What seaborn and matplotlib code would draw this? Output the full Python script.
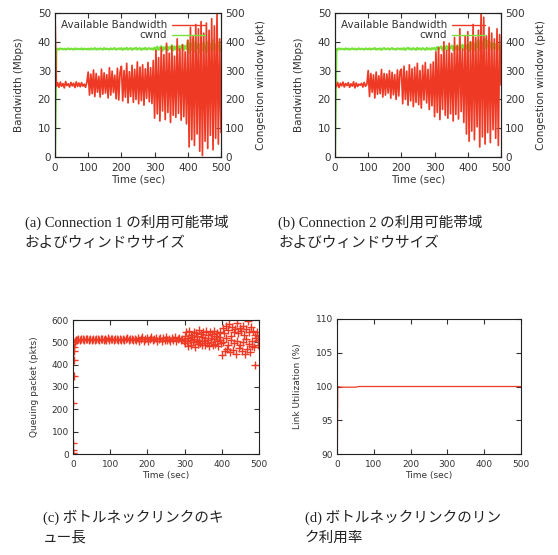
import numpy as np
import pandas as pd
import matplotlib
matplotlib.use("Agg")
import matplotlib.pyplot as plt
import seaborn as sns

# ---- data ----
# (a)/(b): sampled every 4 sec from 0 to 500
t_bw = np.arange(0, 501, 4)

bw_conn1 = [50, 24.5, 25.8, 24.2, 26.0, 24.6, 25.5, 24.0, 26.2, 24.8, 25.4, 24.3, 25.9, 24.7, 25.6, 24.1, 26.1, 24.5, 25.7, 24.4, 25.8, 24.6, 25.3, 24.2, 25.9,
            29.5, 21.5, 28.8, 22.0, 30.2, 21.0, 29.0, 22.5, 28.0, 20.8, 30.5, 21.8, 29.2, 22.2, 28.6, 20.5, 31.0, 21.5, 29.8, 22.4, 28.4, 20.2, 30.8, 19.8, 29.5,
            31.5, 19.5, 30.0, 20.8, 32.5, 18.8, 29.6, 21.0, 31.8, 19.0, 30.4, 20.0, 33.0, 18.5, 31.2, 19.6, 32.0, 18.0, 30.6, 20.4, 32.8, 19.2, 31.0, 18.6, 33.5,
            13.5, 37.0, 15.0, 34.5, 12.5, 38.0, 16.0, 35.5, 13.0, 39.5, 15.5, 36.0, 12.0, 38.5, 14.5, 35.0, 13.8, 41.0, 15.2, 37.5, 12.8, 39.0, 14.0, 36.5, 11.5,
            40.5, 3.5, 45.0, 6.0, 42.0, 4.0, 46.0, 8.0, 44.5, 2.0, 47.0, 0.5, 43.0, 5.5, 46.5, 3.0, 44.0, 7.5, 48.0, 2.5, 45.5, 6.5, 50.0, 4.5, 41.0, 8.5]

cwnd_conn1 = [0, 374, 376, 373, 377, 375, 374, 376, 373, 375, 377, 374, 376, 375, 373, 377, 374, 376, 375, 374, 377, 373, 376, 375, 374,
              376, 373, 377, 374, 375, 378, 373, 376, 374, 377, 375, 373, 378, 374, 376, 375, 373, 377, 374, 376, 378, 373, 375, 377, 374,
              378, 372, 377, 374, 379, 373, 376, 378, 372, 377, 375, 379, 373, 376, 378, 372, 377, 374, 379, 373, 376, 378, 374, 377, 373,
              380, 370, 383, 372, 379, 385, 369, 381, 374, 386, 371, 382, 376, 388, 370, 384, 373, 387, 372, 385, 378, 389, 371, 386, 375,
              405, 362, 395, 372, 410, 365, 398, 378, 392, 363, 402, 370, 396, 382, 364, 400, 374, 393, 367, 405, 371, 391, 380, 398, 366, 388]

bw_conn2 = [25.2, 24.4, 25.9, 24.1, 25.6, 24.7, 26.0, 24.3, 25.5, 24.8, 25.8, 24.2, 25.4, 24.6, 26.1, 24.0, 25.7, 24.5, 25.3, 24.9, 25.6, 24.3, 25.9, 24.6, 25.2,
            30.0, 21.0, 29.0, 22.5, 28.5, 20.5, 29.5, 21.8, 28.2, 22.0, 30.4, 20.8, 29.0, 21.5, 28.8, 22.2, 30.0, 20.4, 29.4, 21.6, 28.6, 20.0, 30.2, 21.2, 29.8,
            30.5, 18.5, 31.5, 20.0, 29.8, 18.0, 32.0, 19.5, 30.6, 17.5, 31.2, 19.0, 32.5, 18.2, 30.0, 17.0, 31.8, 19.8, 32.8, 18.8, 30.4, 16.5, 32.2, 17.8, 33.0,
            14.0, 36.5, 15.5, 38.0, 13.0, 35.5, 16.5, 40.0, 14.5, 37.0, 13.5, 39.5, 15.0, 36.0, 12.5, 41.5, 14.8, 38.5, 13.2, 44.5, 15.8, 37.5, 12.0, 42.0, 8.0,
            43.5, 5.5, 40.0, 9.0, 46.0, 6.0, 41.5, 10.5, 44.0, 3.5, 50.0, 7.0, 48.5, 4.5, 42.0, 8.5, 45.0, 5.0, 43.0, 9.5, 41.0, 6.5, 44.5, 4.0, 42.5, 25.0]

cwnd_conn2 = [0, 375, 373, 377, 374, 376, 375, 373, 377, 374, 376, 373, 375, 377, 374, 376, 373, 375, 377, 374, 376, 375, 373, 377, 375,
              374, 377, 373, 376, 375, 378, 373, 376, 374, 377, 372, 376, 378, 374, 375, 377, 373, 376, 378, 374, 375, 373, 377, 376, 374,
              377, 373, 378, 372, 376, 379, 374, 377, 373, 378, 375, 372, 379, 374, 377, 373, 378, 375, 372, 379, 374, 377, 373, 378, 375,
              379, 371, 382, 373, 380, 384, 370, 383, 375, 386, 372, 381, 377, 387, 371, 385, 374, 388, 373, 384, 379, 390, 372, 387, 376,
              392, 368, 398, 375, 402, 370, 396, 380, 405, 372, 408, 377, 400, 410, 376, 403, 382, 398, 371, 395, 378, 392, 366, 390, 373, 385]

# (c): queue length, first seconds then every 4 sec, then every 2 sec
t_q_start = [0, 0, 0, 0.5, 1, 1.5, 2, 3, 4, 5, 6, 8]
q_start = [0, 20, 50, 5, 230, 350, 420, 460, 480, 500, 505, 510]
t_q_mid = np.arange(10, 299, 4)
q_mid = [512, 515, 510, 516, 513, 509, 517, 514, 511, 516, 512, 515, 510, 514, 517, 511, 513, 516, 509, 515,
         512, 518, 510, 514, 516, 511, 513, 517, 510, 515, 512, 516, 509, 514, 518, 511, 513, 515, 510, 517,
         512, 520, 506, 515, 522, 508, 514, 519, 505, 516, 524, 510, 513, 521, 507, 515, 518, 504, 520, 512,
         523, 509, 516, 506, 519, 511, 525, 508, 515, 521, 510, 516, 507]
t_q_end = np.arange(300, 501, 2)
q_end = [530, 495, 545, 505, 520, 485, 550, 510, 535, 490, 525, 500, 548, 515, 480, 540, 508, 528, 492, 555,
         512, 498, 538, 486, 522, 545, 505, 518, 490, 550, 496, 532, 510, 484, 546, 520, 502, 538, 488, 552,
         514, 494, 530, 506, 542, 482, 526, 512, 548, 498,
         445, 565, 500, 540, 460, 575, 520, 470, 555, 490, 580, 455, 530, 510, 570, 465, 545, 495, 560, 450,
         585, 505, 540, 475, 565, 488, 552, 462, 575, 500, 535, 448, 560, 515, 470, 595, 492, 545, 455, 568,
         505, 482, 550, 480, 535, 400, 520, 545, 490, 510, 530]

# (d): link utilization
t_util = [0, 1, 2, 10, 50, 60, 500]
util = [90, 90, 100, 99.9, 99.9, 100, 100]

captions = [("(a) Connection 1 の利用可能帯域", "およびウィンドウサイズ"),
            ("(b) Connection 2 の利用可能帯域", "およびウィンドウサイズ"),
            ("(c) ボトルネックリンクのキ", "ュー長"),
            ("(d) ボトルネックリンクのリン", "ク利用率")]

RED = "#ee3a24"
GREEN = "#77e23a"
TXT = "#333333"

sns.set_style("ticks")
plt.rcParams["font.family"] = ["DejaVu Sans"]
plt.rcParams["text.color"] = TXT
plt.rcParams["axes.labelcolor"] = TXT
plt.rcParams["xtick.color"] = TXT
plt.rcParams["ytick.color"] = TXT
plt.rcParams["axes.edgecolor"] = "#222222"

W, H = 558, 555
fig = plt.figure(figsize=(W / 100, H / 100), dpi=100)


def box(l, t, r, b):
    return [l / W, 1 - b / H, (r - l) / W, (b - t) / H]


def style_ticks(ax, size, right=True):
    ax.tick_params(direction="in", length=3.5, width=0.8, labelsize=size, top=True, right=right, pad=3)
    ax.tick_params(axis="x", pad=4.5)


# ---- (a) and (b) ----
for (l, r), bw, cw in [((55, 221), bw_conn1, cwnd_conn1), ((335, 501), bw_conn2, cwnd_conn2)]:
    ax = fig.add_axes(box(l, 13, r, 157))
    ax2 = ax.twinx()
    df = pd.DataFrame({"t": t_bw, "bw": bw, "cwnd": cw})
    sns.lineplot(data=df, x="t", y="cwnd", ax=ax2, color=GREEN, lw=1.6, label="cwnd", legend=False)
    sns.lineplot(data=df, x="t", y="bw", ax=ax, color=RED, lw=1.25, label="Available Bandwidth", legend=False)
    ax.set_zorder(ax2.get_zorder() + 1)
    ax.patch.set_visible(False)
    ax.set_xlim(0, 500)
    ax.set_ylim(0, 50)
    ax2.set_ylim(0, 500)
    ax.set_xticks(range(0, 501, 100))
    ax.set_yticks(range(0, 51, 10))
    ax2.set_yticks(range(0, 501, 100))
    style_ticks(ax, 7.5, right=False)
    ax2.tick_params(direction="in", length=3.5, width=0.8, labelsize=7.5, pad=3)
    ax.set_xlabel("Time (sec)", fontsize=7.5, labelpad=1)
    ax.set_ylabel("Bandwidth (Mbps)", fontsize=7.5, labelpad=10)
    ax2.set_ylabel("Congestion window (pkt)", fontsize=7.5, labelpad=8)
    h1, l1 = ax.get_legend_handles_labels()
    h2, l2 = ax2.get_legend_handles_labels()
    leg = ax.legend(h1 + h2, l1 + l2, loc="upper right", frameon=False, markerfirst=False,
                    fontsize=7.5, handlelength=3.2, handletextpad=0.5, labelspacing=0.0,
                    borderaxespad=0.3, bbox_to_anchor=(0.95, 1.0))
    for line in leg.get_lines():
        line.set_linewidth(1.0)

# ---- (c) ----
axc = fig.add_axes(box(73, 320, 259, 454))
dq = pd.DataFrame({"t": np.concatenate([t_q_start, t_q_mid, t_q_end]),
                   "q": np.concatenate([q_start, q_mid, q_end])})
sns.scatterplot(data=dq, x="t", y="q", ax=axc, marker="+", color=RED, s=36, linewidth=1.0)
axc.set_xlim(0, 500)
axc.set_ylim(0, 600)
axc.set_xticks(range(0, 501, 100))
axc.set_yticks(range(0, 601, 100))
style_ticks(axc, 6.5)
axc.set_xlabel("Time (sec)", fontsize=6.5, labelpad=1)
axc.set_ylabel("Queuing packet (pkts)", fontsize=6.5, labelpad=9)

# ---- (d) ----
axd = fig.add_axes(box(337, 319, 521, 454))
du = pd.DataFrame({"t": t_util, "u": util})
sns.lineplot(data=du, x="t", y="u", ax=axd, color=RED, lw=0.9)
axd.set_xlim(0, 500)
axd.set_ylim(90, 110)
axd.set_xticks(range(0, 501, 100))
axd.set_yticks(range(90, 111, 5))
style_ticks(axd, 6.5)
axd.set_xlabel("Time (sec)", fontsize=6.5, labelpad=1)
axd.set_ylabel("Link Utilization (%)", fontsize=6.5, labelpad=10)

# ---- captions ----
cap_font = ["Liberation Serif", "Noto Sans CJK JP"]
cap_pos = [(25, 222, 243), (278, 222, 243), (43, 517, 538), (305, 517, 538)]
for (x, y1, y2), (c1, c2) in zip(cap_pos, captions):
    fig.text(x / W, 1 - y1 / H, c1, family=cap_font, fontsize=10.5, va="center", ha="left", color="#222222")
    fig.text(x / W, 1 - y2 / H, c2, family=cap_font, fontsize=10.5, va="center", ha="left", color="#222222")

fig.savefig("out.png", dpi=100, facecolor="white")
